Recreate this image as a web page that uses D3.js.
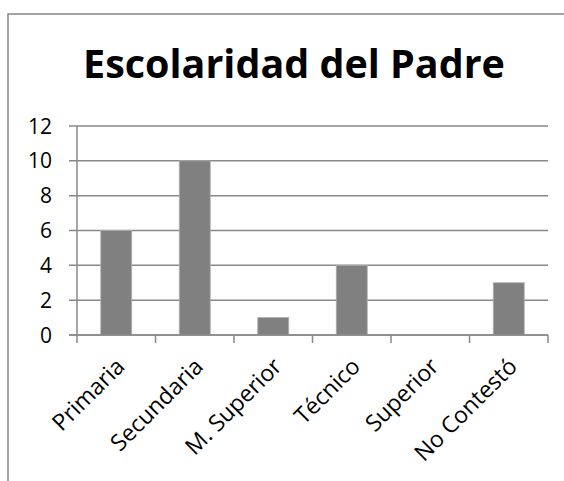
<!DOCTYPE html>
<html>
<head>
    <meta charset="utf-8">
    <script src="https://d3js.org/d3.v7.min.js"></script>
    <style>
        body { margin: 0; background: #fff; }
        text { font-family: "Open Sans", "DejaVu Sans", sans-serif; fill: #000; }
    </style>
</head>
<body>
    <svg width="564" height="481"></svg>

    <script>
        // datos del gráfico
        var categorias = ['Primaria', 'Secundaria', 'M. Superior', 'Técnico', 'Superior', 'No Contestó'];
        var valores = [6, 10, 1, 4, 0, 3];
        var ticksY = [0, 2, 4, 6, 8, 10, 12];
        var titulo = 'Escolaridad del Padre';

        var svg = d3.select("svg");

        // marco del área del gráfico (recortado a la derecha y abajo)
        svg.append("path")
            .attr("d", "M8,481 L8,14 L564,14")
            .attr("fill", "none")
            .attr("stroke", "#878787")
            .attr("stroke-width", 1.5);

        var plotL = 77, plotR = 548, plotT = 126, plotB = 335;

        var x = d3.scaleBand()
            .domain(categorias)
            .range([plotL, plotR])
            .paddingInner(0.605)
            .paddingOuter(0.3025);

        var xCat = d3.scaleBand().domain(categorias).range([plotL, plotR]);

        var y = d3.scaleLinear()
            .domain([0, 12])
            .range([plotB, plotT]);

        // líneas de cuadrícula
        svg.append("g")
            .selectAll("line")
            .data(ticksY)
            .enter().append("line")
            .attr("x1", plotL - 8)
            .attr("x2", plotR)
            .attr("y1", function(d) { return y(d); })
            .attr("y2", function(d) { return y(d); })
            .attr("stroke", "#888")
            .attr("stroke-width", 1.5);

        // eje vertical
        svg.append("line")
            .attr("x1", plotL).attr("x2", plotL)
            .attr("y1", plotT).attr("y2", plotB)
            .attr("stroke", "#888")
            .attr("stroke-width", 1.5);

        // etiquetas eje Y
        svg.append("g")
            .selectAll("text")
            .data(ticksY)
            .enter().append("text")
            .attr("x", 52)
            .attr("y", function(d) { return y(d); })
            .attr("dy", "0.36em")
            .attr("text-anchor", "end")
            .style("font-size", "21px")
            .text(function(d) { return d; });

        // barras
        svg.append("g")
            .selectAll("rect")
            .data(valores)
            .enter().append("rect")
            .attr("x", function(d, i) { return x(categorias[i]); })
            .attr("width", x.bandwidth())
            .attr("y", function(d) { return y(d); })
            .attr("height", function(d) { return y(0) - y(d); })
            .attr("fill", "#808080")
            .attr("stroke", "#b0b0b0")
            .attr("stroke-width", 0.8);

        // eje horizontal con marcas entre categorías
        svg.append("line")
            .attr("x1", plotL - 8).attr("x2", plotR)
            .attr("y1", plotB).attr("y2", plotB)
            .attr("stroke", "#888")
            .attr("stroke-width", 1.5);

        var bordes = categorias.map(function(c) { return xCat(c); }).concat([plotR]);
        svg.append("g")
            .selectAll("line")
            .data(bordes)
            .enter().append("line")
            .attr("x1", function(d) { return d; })
            .attr("x2", function(d) { return d; })
            .attr("y1", plotB)
            .attr("y2", plotB + 8)
            .attr("stroke", "#888")
            .attr("stroke-width", 1.5);

        // etiquetas de categorías, giradas 45°
        svg.append("g")
            .selectAll("text")
            .data(categorias)
            .enter().append("text")
            .attr("transform", function(d) {
                var cx = xCat(d) + xCat.bandwidth() / 2 + 4;
                return "translate(" + cx + "," + 362 + ") rotate(-45)";
            })
            .attr("text-anchor", "end")
            .attr("dy", "0.36em")
            .style("font-size", "23px")
            .text(function(d) { return d; });

        // título
        var t = svg.append("text")
            .attr("x", 294)
            .attr("y", 78)
            .attr("text-anchor", "middle")
            .style("font-size", "40px")
            .style("font-weight", "bold")
            .text(titulo);
        var w = t.node().getComputedTextLength();
        t.style("font-size", (40 * 422 / w) + "px");
    </script>
</body>
</html>
